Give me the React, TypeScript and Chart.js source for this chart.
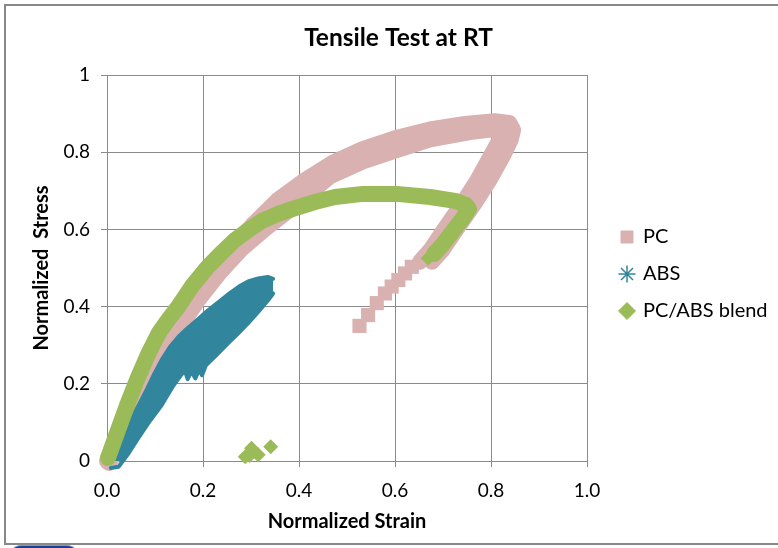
import React, { useEffect, useRef } from 'react';
import { Chart, registerables } from 'chart.js';

Chart.register(...registerables);

// ---- tick labels / names ----
const xTickLabels = ['0.0', '0.2', '0.4', '0.6', '0.8', '1.0'];
const yTickLabels = ['0', '0.2', '0.4', '0.6', '0.8', '1'];
const chartTitle = 'Tensile Test at RT';
const xTitle = 'Normalized Strain';
const yTitle = 'Normalized  Stress';
const seriesNames = ['PC', 'ABS', 'PC/ABS blend'];

// ---- data: [strain, stress] ----
const pcUpper: [number, number][] = [
  [0.0, 0.0], [0.010, 0.031], [0.031, 0.086], [0.058, 0.150], [0.090, 0.223],
  [0.125, 0.298], [0.163, 0.371], [0.204, 0.448], [0.252, 0.536], [0.302, 0.610],
  [0.356, 0.676], [0.413, 0.728], [0.471, 0.773], [0.533, 0.808], [0.600, 0.836],
  [0.673, 0.859], [0.746, 0.873], [0.808, 0.880], [0.838, 0.876], [0.846, 0.858],
  [0.841, 0.832], [0.826, 0.793], [0.797, 0.728], [0.766, 0.668], [0.730, 0.604],
  [0.699, 0.547], [0.677, 0.516],
];
const pcLower: [number, number][] = [
  [0.004, -0.005], [0.023, 0.036], [0.042, 0.088], [0.063, 0.145], [0.088, 0.207],
  [0.117, 0.275], [0.152, 0.347], [0.190, 0.417], [0.235, 0.488], [0.281, 0.550],
  [0.331, 0.603], [0.392, 0.662], [0.465, 0.738], [0.533, 0.776], [0.600, 0.804],
  [0.673, 0.833], [0.756, 0.852], [0.808, 0.860], [0.822, 0.850], [0.818, 0.832],
  [0.801, 0.793], [0.772, 0.728], [0.741, 0.668], [0.705, 0.604], [0.674, 0.547],
  [0.652, 0.516],
];
const pcTail: [number, number][] = [
  [0.635, 0.503], [0.621, 0.486], [0.607, 0.469], [0.593, 0.452],
  [0.579, 0.434], [0.562, 0.409], [0.544, 0.378], [0.526, 0.350],
];
const absUpper: [number, number][] = [
  [0.000, 0.012], [0.020, 0.045], [0.044, 0.090], [0.062, 0.135], [0.080, 0.178],
  [0.097, 0.222], [0.114, 0.262], [0.131, 0.295], [0.149, 0.322], [0.166, 0.342],
  [0.183, 0.360], [0.210, 0.390], [0.239, 0.418], [0.256, 0.435], [0.275, 0.452],
  [0.294, 0.465], [0.315, 0.473], [0.335, 0.477], [0.346, 0.472],
];
const absLower: [number, number][] = [
  [0.008, -0.018], [0.024, -0.015], [0.045, 0.020], [0.065, 0.059], [0.090, 0.105],
  [0.114, 0.145], [0.138, 0.195], [0.155, 0.224], [0.163, 0.232], [0.168, 0.212],
  [0.176, 0.232], [0.184, 0.214], [0.192, 0.236], [0.198, 0.222], [0.206, 0.248],
  [0.230, 0.277], [0.253, 0.306], [0.275, 0.333], [0.294, 0.357], [0.315, 0.386],
  [0.336, 0.417], [0.346, 0.434],
];
const blendCurve: [number, number][] = [
  [0.002, 0.008], [0.021, 0.073], [0.042, 0.145], [0.0625, 0.210], [0.085, 0.275],
  [0.108, 0.332], [0.128, 0.367], [0.148, 0.399], [0.177, 0.453], [0.210, 0.503],
  [0.240, 0.541], [0.267, 0.573], [0.294, 0.598], [0.323, 0.622], [0.356, 0.640],
  [0.392, 0.655], [0.433, 0.671], [0.475, 0.684], [0.533, 0.692], [0.604, 0.692],
  [0.673, 0.684], [0.725, 0.674], [0.748, 0.663], [0.754, 0.653], [0.742, 0.630],
  [0.721, 0.596], [0.700, 0.562], [0.681, 0.536],
];
const blendLoose: [number, number][] = [
  [0.669, 0.525], [0.288, 0.011], [0.297, 0.014], [0.301, 0.033], [0.315, 0.016], [0.341, 0.037],
];

const toXY = (pts: [number, number][]) => pts.map(([x, y]) => ({ x, y }));

const PINK = '#D9B1B1';
const TEAL = '#31859C';
const GREEN = '#9BBB59';
const GRID = '#8a8a8a';

const placer = {
  id: 'placer',
  afterLayout(chart: any) {
    const lg = chart.legend;
    if (lg) {
      lg.left = 604; lg.right = 778; lg.top = 0; lg.bottom = 548;
      lg.width = 174; lg.height = 548;
    }
    const tb = chart.titleBlock;
    if (tb) {
      tb.left = 19; tb.right = 778; tb.width = 759;
    }
  },
};

export default function App() {
  const ref = useRef<HTMLCanvasElement>(null);
  useEffect(() => {
    document.body.style.margin = '0';
    Chart.defaults.font.family = 'Lato';
    const lineBase = {
      showLine: true, pointRadius: 0, borderJoinStyle: 'round', borderCapStyle: 'round',
      clip: false, fill: false, tension: 0,
    };
    const datasets: any[] = [
      { ...lineBase, label: seriesNames[0], data: toXY(pcUpper), borderColor: PINK, backgroundColor: PINK,
        borderWidth: 16, pointStyle: 'rect', pointBackgroundColor: PINK, pointBorderColor: PINK, pointBorderWidth: 1, order: 3 },
      { ...lineBase, label: 'PC b', hideInLegend: true, data: toXY(pcLower), borderColor: PINK, backgroundColor: PINK,
        borderWidth: 16, order: 3 },
      { label: 'PC c', hideInLegend: true, data: toXY(pcTail), showLine: false, pointStyle: 'rect', pointRadius: 10,
        pointBackgroundColor: PINK, pointBorderColor: PINK, pointBorderWidth: 0, clip: false, order: 3 },
      { ...lineBase, label: seriesNames[1], data: toXY(absUpper), borderColor: TEAL, backgroundColor: TEAL,
        borderWidth: 4, pointStyle: 'star', pointBorderColor: TEAL, pointBackgroundColor: TEAL, pointBorderWidth: 1.5, order: 2 },
      { ...lineBase, label: 'ABS b', hideInLegend: true, data: toXY(absLower), borderColor: TEAL, backgroundColor: TEAL,
        borderWidth: 4, fill: '-1', order: 2 },
      { ...lineBase, label: seriesNames[2], data: toXY(blendCurve), borderColor: GREEN, backgroundColor: GREEN,
        borderWidth: 16, pointStyle: 'rectRot', pointBackgroundColor: GREEN, pointBorderColor: GREEN, pointBorderWidth: 1, order: 1 },
      { label: 'blend b', hideInLegend: true, data: toXY(blendLoose), showLine: false, pointStyle: 'rectRot', pointRadius: 7.5,
        pointBackgroundColor: GREEN, pointBorderColor: GREEN, pointBorderWidth: 0, clip: false, order: 1 },
    ];
    const chart = new Chart(ref.current as HTMLCanvasElement, {
      type: 'scatter',
      data: { datasets },
      plugins: [placer],
      options: {
        animation: false,
        responsive: false,
        devicePixelRatio: 1,
        events: [],
        layout: { padding: { left: 0, right: 191, top: 0, bottom: 0 } },
        scales: {
          x: {
            type: 'linear', min: 0, max: 1,
            ticks: { stepSize: 0.2, padding: 12, color: '#000', maxRotation: 0, font: { size: 19 },
              callback: (_v: any, i: number) => xTickLabels[i] },
            grid: { color: GRID, tickColor: GRID, tickLength: 6, lineWidth: 1 },
            border: { color: GRID },
            title: { display: true, text: xTitle, color: '#000', font: { size: 20, weight: 'bold' },
              padding: { top: 0, bottom: 14 } },
            afterFit: (s: any) => { s.height = 87; },
          },
          y: {
            type: 'linear', min: 0, max: 1,
            ticks: { stepSize: 0.2, padding: 11, color: '#000', font: { size: 19 },
              callback: (_v: any, i: number) => yTickLabels[i] },
            grid: { color: GRID, tickColor: GRID, tickLength: 6, lineWidth: 1 },
            border: { color: GRID },
            title: { display: true, text: yTitle, color: '#000', font: { size: 20, weight: 'bold' },
              padding: { top: 30, bottom: 0 } },
            afterFit: (s: any) => { s.width = 107; },
          },
        },
        plugins: {
          title: { display: true, text: chartTitle, color: '#000', font: { size: 24.5, weight: 'bold' },
            padding: { top: 23, bottom: 22.6 } },
          legend: {
            position: 'chartArea',
            labels: {
              usePointStyle: true, boxWidth: 12, boxHeight: 12, padding: 17, color: '#000', font: { size: 20 },
              filter: (item: any, data: any) => !data.datasets[item.datasetIndex].hideInLegend,
              sort: (a: any, b: any) => a.datasetIndex - b.datasetIndex,
            },
          },
          tooltip: { enabled: false },
        },
      } as any,
    });
    return () => chart.destroy();
  }, []);
  return (
    <div style={{ position: 'relative', width: 778, height: 548, overflow: 'hidden', background: '#fff' }}>
      <canvas ref={ref} width={778} height={548} style={{ position: 'absolute', left: 0, top: 0 }} />
      <div style={{ position: 'absolute', left: 4, top: 4, width: 800, height: 537, border: '2px solid #888', pointerEvents: 'none' }} />
      <div style={{ position: 'absolute', left: 9, top: 545, width: 68, height: 10, background: '#1d3d95', borderRadius: '14px 14px 0 0', border: '1px solid #7f97cf' }} />
    </div>
  );
}
